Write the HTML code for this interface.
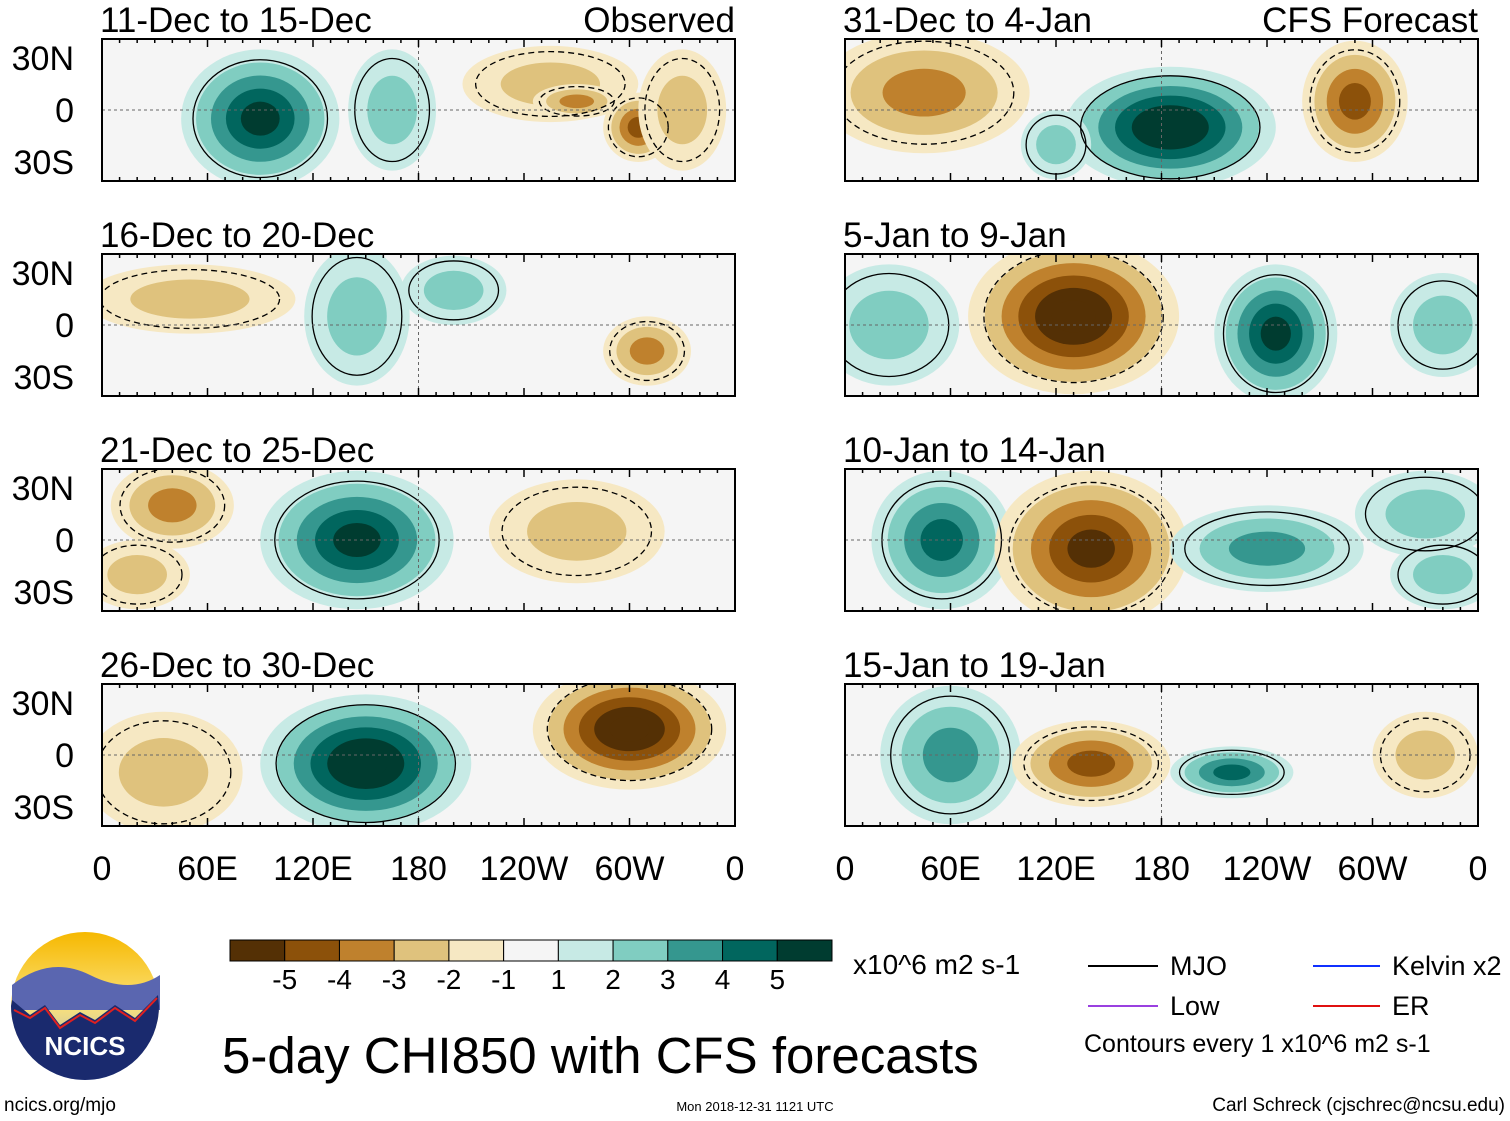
<!DOCTYPE html>
<html><head><meta charset="utf-8"><style>
body{margin:0;background:#fff;}
svg{display:block;font-family:"Liberation Sans",sans-serif;}
</style></head><body>
<svg id="fig" width="1510" height="1121" viewBox="0 0 1510 1121">
<defs>
<linearGradient id="sky" x1="0" y1="0" x2="0" y2="1"><stop offset="0" stop-color="#f6b800"/><stop offset="0.5" stop-color="#fbe27a"/><stop offset="1" stop-color="#8fa3d6"/></linearGradient>
</defs>
<g id="panels"></g>
<g id="cbar"></g>
<text x="853" y="974" font-size="28">x10^6 m2 s-1</text>
<g>
<line x1="1088" y1="966" x2="1158" y2="966" stroke="#000" stroke-width="2"/><text x="1170" y="975" font-size="27">MJO</text>
<line x1="1313" y1="966" x2="1380" y2="966" stroke="#1030ff" stroke-width="2"/><text x="1392" y="975" font-size="27">Kelvin x2</text>
<line x1="1088" y1="1006" x2="1158" y2="1006" stroke="#9a40e0" stroke-width="2"/><text x="1170" y="1015" font-size="27">Low</text>
<line x1="1313" y1="1006" x2="1380" y2="1006" stroke="#e01010" stroke-width="2"/><text x="1392" y="1015" font-size="27">ER</text>
<text x="1084" y="1052" font-size="25">Contours every 1 x10^6 m2 s-1</text>
</g>
<text x="222" y="1073" font-size="51">5-day CHI850 with CFS forecasts</text>
<g>
<circle cx="85" cy="1006" r="74" fill="url(#sky)"/>
<path d="M12,985 Q50,955 90,975 T160,975 L160,1010 L12,1010Z" fill="#5a66b0"/>
<path d="M12,1000 L30,1015 L45,1005 L60,1025 L80,1012 L95,1020 L115,1005 L135,1018 L158,995 L159,1006 A74,74 0 0 1 11,1006Z" fill="#1a2a6e"/>
<path d="M14,1010 L30,1018 L45,1008 L60,1028 L80,1015 L95,1023 L115,1008 L135,1021 L157,998" fill="none" stroke="#e02020" stroke-width="2"/>
<text x="85" y="1055" font-size="26" font-weight="bold" fill="#fff" text-anchor="middle">NCICS</text>
</g>
<text x="4" y="1111" font-size="19">ncics.org/mjo</text>
<text x="755" y="1111" font-size="13" text-anchor="middle">Mon 2018-12-31 1121 UTC</text>
<text x="1505" y="1111" font-size="19" text-anchor="end">Carl Schreck (cjschrec@ncsu.edu)</text>
</svg>
<script>
// ---- data ----
const panelTitles = ["11-Dec to 15-Dec","16-Dec to 20-Dec","21-Dec to 25-Dec","26-Dec to 30-Dec","31-Dec to 4-Jan","5-Jan to 9-Jan","10-Jan to 14-Jan","15-Jan to 19-Jan"];
const lonTicks = [0,60,120,180,240,300,360];
const lonTickLabels = ["0","60E","120E","180","120W","60W","0"];
const latTicks = [30,0,-30];
const latTickLabels = ["30N","0","30S"];
const levels = [-5,-4,-3,-2,-1,1,2,3,4,5];
const palette = ["#543005","#8c510a","#bf812d","#dfc27d","#f6e8c3","#f5f5f5","#c7eae5","#80cdc1","#35978f","#01665e","#003c30"];
// anomaly centres per panel: lon, lat, value, radii (deg)
const blobLon = [[90,165,255,305,270,330],[50,145,310,200],[40,145,270,20],[150,300,35],[45,185,290,120],[25,130,245,340],[55,140,240,330,340],[60,140,220,330]];
const blobLat = [[-5,0,15,-10,5,0],[15,5,-15,20],[20,0,5,-20],[-5,15,-10],[10,-10,5,-20],[0,5,-5,0],[0,-5,-5,15,-20],[0,-5,-10,0]];
const blobVal = [[4.5,2,-2,-3.5,-3,-1.5],[-1.5,2,-2.5,1.2],[-3,4.5,-2,-1.5],[5.5,-5.5,-2],[-3,5.5,-3.5,2],[1.5,-5.5,4.5,1.5],[3.5,-5,2.5,1.5,1.5],[2.5,-3.5,3.5,-1.2]];
const blobRx = [[45,25,50,20,25,25],[60,30,25,30],[35,55,50,30],[60,55,45],[60,60,30,20],[40,60,35,30],[40,55,55,40,30],[40,45,35,30]];
const blobRy = [[40,35,22,20,10,35],[20,40,20,20],[25,40,30,20],[40,35,35],[35,35,35,20],[35,45,40,30],[40,45,25,25,20],[40,25,15,25]];

const NS="http://www.w3.org/2000/svg";
function mk(t,a,p){const e=document.createElementNS(NS,t);for(const k in a)e.setAttribute(k,a[k]);if(p)p.appendChild(e);return e;}
const panelsG=document.getElementById('panels');
const W=633,H=142;
function colorFor(v){let i=0;while(i<levels.length&&v>levels[i])i++;return palette[i];}
for(let p=0;p<8;p++){
  const col=p<4?0:1,row=p%4;
  const x0=col?845:102,y0=39+row*215;
  const xs=lon=>x0+lon/360*W;
  const ys=lat=>y0+H/2-lat*(H/82);
  const g=mk('g',{},panelsG);
  
  
  mk('clipPath',{id:'c'+p},g);
  mk('rect',{x:x0,y:y0,width:W,height:H},document.getElementById('c'+p));
  mk('rect',{x:x0,y:y0,width:W,height:H,fill:'#f5f5f5'},g);
  const inner=mk('g',{'clip-path':'url(#c'+p+')'},g);
  for(let b=0;b<blobLon[p].length;b++){
    const v=blobVal[p][b],n=Math.ceil(Math.abs(v));
    for(let k=1;k<=n;k++){
      const f=1-(k-1)/(n+0.3);
      const e=mk('ellipse',{cx:xs(blobLon[p][b]),cy:ys(blobLat[p][b]),rx:blobRx[p][b]*f*W/360,ry:blobRy[p][b]*f*H/82,fill:colorFor(Math.sign(v)*(k+0.5))},inner);
      
      
    }
  }
  for(let b=0;b<blobLon[p].length;b++){
    const v=blobVal[p][b];
    const c=mk('ellipse',{cx:xs(blobLon[p][b]),cy:ys(blobLat[p][b]),rx:blobRx[p][b]*0.85*W/360,ry:blobRy[p][b]*0.85*H/82,fill:'none',stroke:'#000','stroke-width':1.3,'stroke-dasharray':v<0?'6,4':'none'},inner);
    
    
  }
  mk('line',{x1:x0,x2:x0+W,y1:ys(0),y2:ys(0),stroke:'#666','stroke-dasharray':'3,3'},inner);
  mk('line',{x1:xs(180),x2:xs(180),y1:y0,y2:y0+H,stroke:'#666','stroke-dasharray':'3,3'},inner);
  mk('rect',{x:x0,y:y0,width:W,height:H,fill:'none',stroke:'#000','stroke-width':2},g);
  for(let l=0;l<=360;l+=10){const len=l%60?4:8;mk('line',{x1:xs(l),x2:xs(l),y1:y0,y2:y0+len,stroke:'#000','stroke-width':1.5},g);mk('line',{x1:xs(l),x2:xs(l),y1:y0+H,y2:y0+H-len,stroke:'#000','stroke-width':1.5},g);}
  const t=mk('text',{x:x0-2,y:y0-7,'font-size':35},g);t.textContent=panelTitles[p];
  
  
  if(row===0){const s=mk('text',{x:x0+W,y:y0-7,'font-size':35,'text-anchor':'end'},g);s.textContent=col?'CFS Forecast':'Observed';
    
    }
  if(col===0){latTicks.forEach((la,i)=>{const tt=mk('text',{x:74,y:ys(la)+12,'font-size':34,'text-anchor':'end'},g);tt.textContent=latTickLabels[i];
    
    });}
  if(row===3){lonTicks.forEach((lo,i)=>{const tt=mk('text',{x:xs(lo),y:880,'font-size':34,'text-anchor':'middle'},g);tt.textContent=lonTickLabels[i];
    
    });}
}
const cb=document.getElementById('cbar');
const cw=602/palette.length;
palette.forEach((c,i)=>{const r=mk('rect',{x:230+i*cw,y:940,width:cw,height:21,fill:c,stroke:'#000','stroke-width':1},cb);
  
  });
levels.forEach((lv,i)=>{const t=mk('text',{x:230+(i+1)*cw,y:989,'font-size':28,'text-anchor':'middle'},cb);t.textContent=lv;
  
  });
</script>
</body></html>
